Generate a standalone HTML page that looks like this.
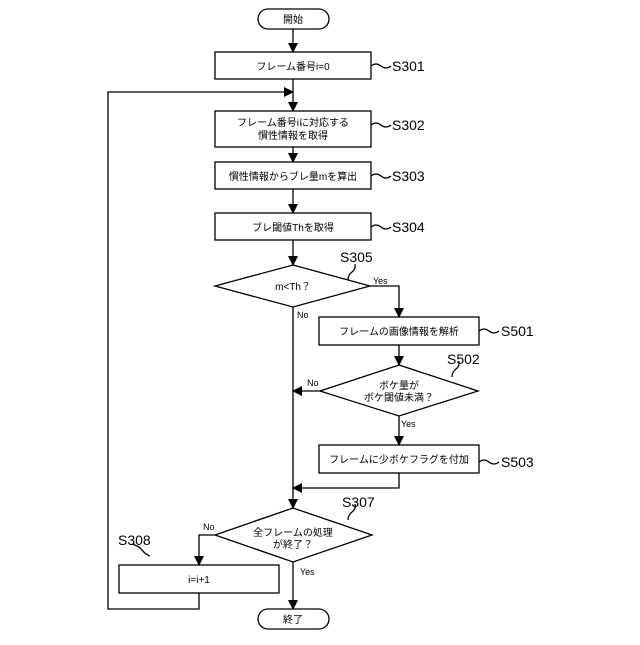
<!DOCTYPE html>
<html><head><meta charset="utf-8"><style>
html,body{margin:0;padding:0;background:#fff;}
svg text{font-family:"Liberation Sans","Noto Sans CJK JP",sans-serif;fill:#000;}
</style></head><body>
<svg width="640" height="640" viewBox="0 0 640 640" xmlns="http://www.w3.org/2000/svg">
<defs><marker id="a" markerWidth="10" markerHeight="10" refX="9" refY="5" orient="auto" markerUnits="userSpaceOnUse"><path d="M0,0 L10,5 L0,10 z" fill="#000"/></marker></defs>
<g fill="none" stroke="#000" stroke-width="1.3">
<rect x="258" y="9" width="71" height="20" rx="10"/>
<rect x="215" y="52" width="156" height="27"/>
<rect x="215" y="111" width="156" height="36"/>
<rect x="215" y="162" width="156" height="27"/>
<rect x="215" y="213" width="156" height="27"/>
<polygon points="293,265 370,286 293,307 215,286"/>
<rect x="319" y="317" width="160" height="28"/>
<polygon points="399,365 478,391 399,416 320,391"/>
<rect x="319" y="445" width="160" height="28"/>
<polygon points="293,508 372,535 293,562 215,535"/>
<rect x="119" y="565" width="160" height="28"/>
<rect x="258" y="609" width="71" height="20" rx="10"/>
<line x1="293" y1="29" x2="293" y2="52" marker-end="url(#a)"/>
<line x1="293" y1="79" x2="293" y2="111" marker-end="url(#a)"/>
<line x1="293" y1="147" x2="293" y2="162" marker-end="url(#a)"/>
<line x1="293" y1="189" x2="293" y2="213" marker-end="url(#a)"/>
<line x1="293" y1="240" x2="293" y2="265" marker-end="url(#a)"/>
<polyline points="370,286 399,286 399,317" marker-end="url(#a)"/>
<line x1="399" y1="345" x2="399" y2="365" marker-end="url(#a)"/>
<line x1="320" y1="391" x2="293" y2="391" marker-end="url(#a)"/>
<line x1="399" y1="416" x2="399" y2="445" marker-end="url(#a)"/>
<polyline points="399,473 399,488 293,488" marker-end="url(#a)"/>
<line x1="293" y1="307" x2="293" y2="508" marker-end="url(#a)"/>
<polyline points="215,535 199,535 199,565" marker-end="url(#a)"/>
<line x1="293" y1="562" x2="293" y2="609" marker-end="url(#a)"/>
<polyline points="199,593 199,609 108,609 108,92 293,92" marker-end="url(#a)"/>
<path d="M371,66 q5,-4 10,0 t10,0"/>
<path d="M371,125 q5,-4 10,0 t10,0"/>
<path d="M371,176 q5,-4 10,0 t10,0"/>
<path d="M371,227 q5,-4 10,0 t10,0"/>
<path d="M479,331 q5,-4 10,0 t10,0"/>
<path d="M479,462 q5,-4 10,0 t10,0"/>
<path d="M348,280 q0,-5 4,-8 t3,-8"/>
<path d="M452,377 q0,-5 4,-8 t3,-8"/>
<path d="M348,520 q0,-5 4,-8 t3,-8"/>
<path d="M150,556 q-5,-2 -8,-6 t-10,-6"/>
</g>
<g font-size="10" text-anchor="middle">
<text x="293" y="23">開始</text>
<text x="293" y="70">フレーム番号i=0</text>
<text x="293" y="126">フレーム番号iに対応する</text>
<text x="293" y="139">慣性情報を取得</text>
<text x="293" y="180">慣性情報からブレ量mを算出</text>
<text x="293" y="231">ブレ閾値Thを取得</text>
<text x="293" y="290">m&lt;Th？</text>
<text x="399" y="335">フレームの画像情報を解析</text>
<text x="399" y="389">ボケ量が</text>
<text x="399" y="401">ボケ閾値未満？</text>
<text x="399" y="463">フレームに少ボケフラグを付加</text>
<text x="293" y="536">全フレームの処理</text>
<text x="293" y="548">が終了？</text>
<text x="199" y="583">i=i+1</text>
<text x="293" y="623">終了</text>
</g>
<g font-size="9">
<text x="373" y="284">Yes</text>
<text x="297" y="318">No</text>
<text x="307" y="386">No</text>
<text x="401" y="427">Yes</text>
<text x="203" y="530">No</text>
<text x="300" y="575">Yes</text>
</g>
<g font-size="14">
<text x="392" y="71">S301</text>
<text x="392" y="130">S302</text>
<text x="392" y="181">S303</text>
<text x="392" y="232">S304</text>
<text x="340" y="262">S305</text>
<text x="501" y="336">S501</text>
<text x="447" y="364">S502</text>
<text x="501" y="467">S503</text>
<text x="342" y="507">S307</text>
<text x="118" y="545">S308</text>
</g>
</svg>
</body></html>
